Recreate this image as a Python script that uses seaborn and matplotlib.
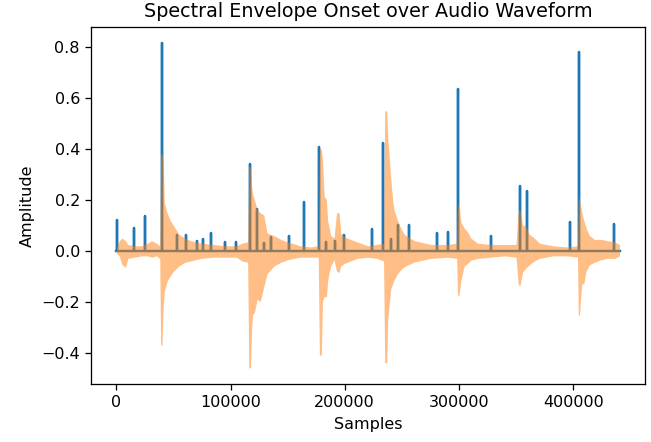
import numpy as np
import pandas as pd
import seaborn as sns
import matplotlib
matplotlib.use("Agg")
import matplotlib.pyplot as plt

# onset envelope peaks (sample index, strength)
onset_samples = [1000, 15200, 25400, 40000, 53200, 61100, 70500, 76000, 83300, 95000,
                 104400, 116700, 123400, 129600, 135700, 150800, 164000, 177500, 183300,
                 191200, 199100, 224300, 233600, 240400, 246500, 256700, 281000, 290100,
                 299400, 328100, 353200, 359400, 397400, 405000, 435400]
onset_values = [0.12, 0.09, 0.135, 0.818, 0.063, 0.063, 0.037, 0.046, 0.07, 0.036,
                0.036, 0.342, 0.165, 0.03, 0.054, 0.057, 0.19, 0.407, 0.034,
                0.04, 0.061, 0.087, 0.423, 0.045, 0.1, 0.102, 0.07, 0.073,
                0.636, 0.06, 0.254, 0.234, 0.113, 0.782, 0.106]
n_samples = 441000

# audio waveform envelope (sample index, upper, lower)
wave_x = [0, 2500, 5000, 8000, 10000, 16000, 22000, 27000, 31000, 35000, 38000,
          38800, 40000, 41000, 42000, 44400, 47000, 50000, 54700, 60000, 65000, 74000,
          85000, 95000, 105000, 110000, 115000,
          116000, 117500, 118500, 119500, 121000, 123400, 126000, 129200, 132000,
          138000, 144000, 150000, 161000, 170000, 176800,
          177800, 179500, 180500, 182000, 184000, 185000, 186200, 187700, 190600,
          192800, 195000, 196500, 199400, 205000, 211000, 220000, 228000, 234000,
          235000, 236800, 237600, 240300, 242000, 243200, 246200, 249000, 252000,
          260800, 275400, 290000, 298000,
          298800, 300000, 301700, 304600, 307500, 310400, 316300, 328000, 340000, 350000,
          352000, 353500, 355800, 358100, 361600, 366000, 370400, 382100, 395000, 403800,
          404500, 405500, 407500, 409300, 411300, 414200, 418600, 424500, 430000,
          436200, 440600]
wave_hi = [0.01, 0.04, 0.05, 0.04, 0.025, 0.02, 0.02, 0.03, 0.04, 0.03, 0.02,
           0.38, 0.38, 0.36, 0.19, 0.15, 0.12, 0.10, 0.065, 0.05, 0.04, 0.03,
           0.025, 0.02, 0.02, 0.03, 0.035,
           0.33, 0.33, 0.25, 0.22, 0.20, 0.16, 0.15, 0.14, 0.07,
           0.06, 0.045, 0.035, 0.02, 0.015, 0.02,
           0.40, 0.40, 0.36, 0.215, 0.20, 0.12, 0.095, 0.06, 0.05,
           0.15, 0.15, 0.07, 0.055, 0.045, 0.035, 0.02, 0.025, 0.03,
           0.55, 0.55, 0.45, 0.285, 0.20, 0.16, 0.12, 0.09, 0.065,
           0.04, 0.025, 0.025, 0.03,
           0.18, 0.18, 0.113, 0.09, 0.075, 0.05, 0.03, 0.025, 0.025, 0.025,
           0.16, 0.16, 0.10, 0.10, 0.065, 0.05, 0.03, 0.02, 0.015, 0.02,
           0.205, 0.205, 0.152, 0.12, 0.09, 0.06, 0.045, 0.045, 0.04,
           0.035, 0.025]
wave_lo = [-0.01, -0.02, -0.055, -0.065, -0.03, -0.025, -0.02, -0.02, -0.025, -0.02, -0.03,
           -0.37, -0.37, -0.22, -0.16, -0.12, -0.10, -0.08, -0.06, -0.045, -0.04, -0.03,
           -0.025, -0.025, -0.025, -0.04, -0.045,
           -0.46, -0.46, -0.30, -0.25, -0.24, -0.19, -0.20, -0.14, -0.09,
           -0.06, -0.045, -0.035, -0.025, -0.025, -0.025,
           -0.41, -0.41, -0.20, -0.18, -0.18, -0.12, -0.09, -0.06, -0.035,
           -0.08, -0.085, -0.06, -0.05, -0.04, -0.03, -0.025, -0.03, -0.04,
           -0.44, -0.44, -0.27, -0.15, -0.13, -0.115, -0.09, -0.075, -0.063,
           -0.044, -0.03, -0.025, -0.03,
           -0.175, -0.175, -0.116, -0.06, -0.05, -0.037, -0.03, -0.025, -0.02, -0.025,
           -0.135, -0.135, -0.083, -0.07, -0.055, -0.04, -0.03, -0.02, -0.02, -0.025,
           -0.253, -0.253, -0.13, -0.13, -0.08, -0.055, -0.045, -0.035, -0.03,
           -0.03, -0.02]

# stem-like path for the onset envelope: 0 -> peak -> 0 at each onset
stem_x = np.repeat(onset_samples, 3)
stem_y = np.column_stack([np.zeros(len(onset_values)), onset_values,
                          np.zeros(len(onset_values))]).ravel()
stem_x = np.concatenate([[0], stem_x, [n_samples]])
stem_y = np.concatenate([[0], stem_y, [0]])
onset_df = pd.DataFrame({"Samples": stem_x, "Amplitude": stem_y})

fig = plt.figure(figsize=(651 / 115, 442 / 115), dpi=115)
ax = fig.add_axes([0.14, 0.131, 0.851, 0.808])

sns.lineplot(data=onset_df, x="Samples", y="Amplitude", sort=False, estimator=None,
             color="#1f77b4", linewidth=1.5, ax=ax, zorder=2)
# waveform drawn on top, semi-transparent
ax.fill_between(wave_x, wave_lo, wave_hi, color="#ff7f0e", alpha=0.5,
                linewidth=0, zorder=3)

ax.set_xlim(-22050, 463050)
ax.set_ylim(-0.524, 0.88)
ax.set_xticks([0, 100000, 200000, 300000, 400000])
ax.set_title("Spectral Envelope Onset over Audio Waveform")
ax.set_xlabel("Samples")
ax.set_ylabel("Amplitude")

fig.savefig("out.png", dpi=115)
